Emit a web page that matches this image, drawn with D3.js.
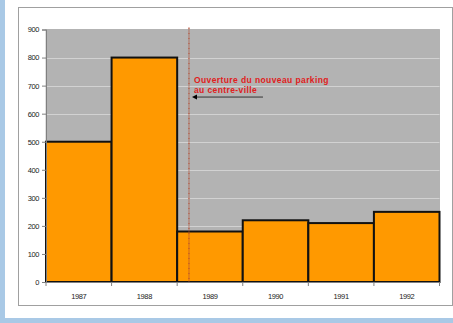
<!DOCTYPE html>
<html><head><meta charset="utf-8">
<script src="https://cdn.jsdelivr.net/npm/d3@7"></script>
<style>body{margin:0;padding:0;overflow:hidden;background:#a9c9e6}</style>
</head><body>
<script>
const years = ["1987","1988","1989","1990","1991","1992"];
const values = [500, 800, 180, 220, 210, 250];
const yTicks = [0,100,200,300,400,500,600,700,800,900];
const annotationLines = ["Ouverture du nouveau parking","au centre-ville"];
const eventYear = "1989";

const W = 453, H = 323;
const svg = d3.select("body").append("svg").attr("width", W).attr("height", H);
svg.append("rect").attr("x",0).attr("y",0).attr("width",W).attr("height",H).attr("fill","#a9c9e6");
svg.append("rect").attr("x",5).attr("y",0).attr("width",W-5).attr("height",318).attr("fill","#ffffff");
svg.append("rect").attr("x",18.5).attr("y",7.5).attr("width",434).attr("height",298)
  .attr("fill","#ffffff").attr("stroke","#a0a0a0").attr("stroke-width",1);

const L = 46, R = 439.5, T = 29.5, B = 282;
const x = d3.scaleBand().domain(years).range([L, R]).padding(0);
const y = d3.scaleLinear().domain([0, 900]).range([B, T]);

svg.append("rect").attr("x",L).attr("y",T).attr("width",R-L).attr("height",B-T)
  .attr("fill","#b3b3b3").attr("stroke","#999999").attr("stroke-width",0.6);

// gridlines
svg.append("g").selectAll("line").data(yTicks.filter(d=>d>0 && d<900)).join("line")
  .attr("x1",L).attr("x2",R).attr("y1",d=>Math.round(y(d))+0.5).attr("y2",d=>Math.round(y(d))+0.5)
  .attr("stroke","#d2d2d2").attr("stroke-width",1);

// bars
svg.append("g").selectAll("rect").data(years).join("rect")
  .attr("x",d=>x(d)).attr("y",(d,i)=>y(values[i]))
  .attr("width",x.bandwidth()).attr("height",(d,i)=>B-y(values[i]))
  .attr("fill","#ff9900").attr("stroke","#111111").attr("stroke-width",2);

// y axis
const yAxis = d3.axisLeft(y).tickValues(yTicks).tickSize(4).tickPadding(3);
const gy = svg.append("g").attr("transform",`translate(${L},0)`).call(yAxis);
gy.select(".domain").attr("stroke","#808080");
gy.selectAll(".tick line").attr("stroke","#808080");
gy.selectAll("text").attr("font-family","Liberation Sans, Arial, sans-serif").attr("font-size","7.5px")
  .attr("fill","#222").attr("letter-spacing","-0.4px");

// x axis
const gx = svg.append("g").attr("transform",`translate(0,${B})`);
gx.append("line").attr("x1",L).attr("x2",R).attr("y1",0.5).attr("y2",0.5).attr("stroke","#808080");
const bounds = years.map(d=>x(d)).concat([x(years[years.length-1])+x.bandwidth()]);
gx.selectAll("line.tk").data(bounds).join("line").attr("class","tk")
  .attr("x1",d=>d).attr("x2",d=>d).attr("y1",0).attr("y2",4).attr("stroke","#808080");
gx.selectAll("text").data(years).join("text")
  .attr("x",d=>x(d)+x.bandwidth()/2).attr("y",17).attr("text-anchor","middle")
  .attr("font-family","Liberation Sans, Arial, sans-serif").attr("font-size","7.5px")
  .attr("fill","#222").attr("letter-spacing","-0.4px").text(d=>d);

// event line
const ex = x(eventYear) + x.bandwidth()*0.18;
svg.append("line").attr("x1",ex).attr("x2",ex).attr("y1",T-2).attr("y2",B)
  .attr("stroke","#b04a30").attr("stroke-width",1.2).attr("stroke-dasharray","2,1,1,1");

// annotation
const tg = svg.append("text").attr("font-family","Liberation Sans, Arial, sans-serif")
  .attr("font-size","8.5px").attr("font-weight","bold").attr("fill","#e02020").attr("letter-spacing","0.4px");
annotationLines.forEach((t,i)=>{
  tg.append("tspan").attr("x",ex+5).attr("y",y(800)+25.5+i*10).text(t);
});
// arrow
const ay = y(800)+39.5;
svg.append("line").attr("x1",ex+6).attr("x2",ex+74).attr("y1",ay).attr("y2",ay).attr("stroke","#333").attr("stroke-width",1);
svg.append("path").attr("d",`M${ex+3},${ay} l5,-2.5 l0,5 z`).attr("fill","#000");
</script>
</body></html>
